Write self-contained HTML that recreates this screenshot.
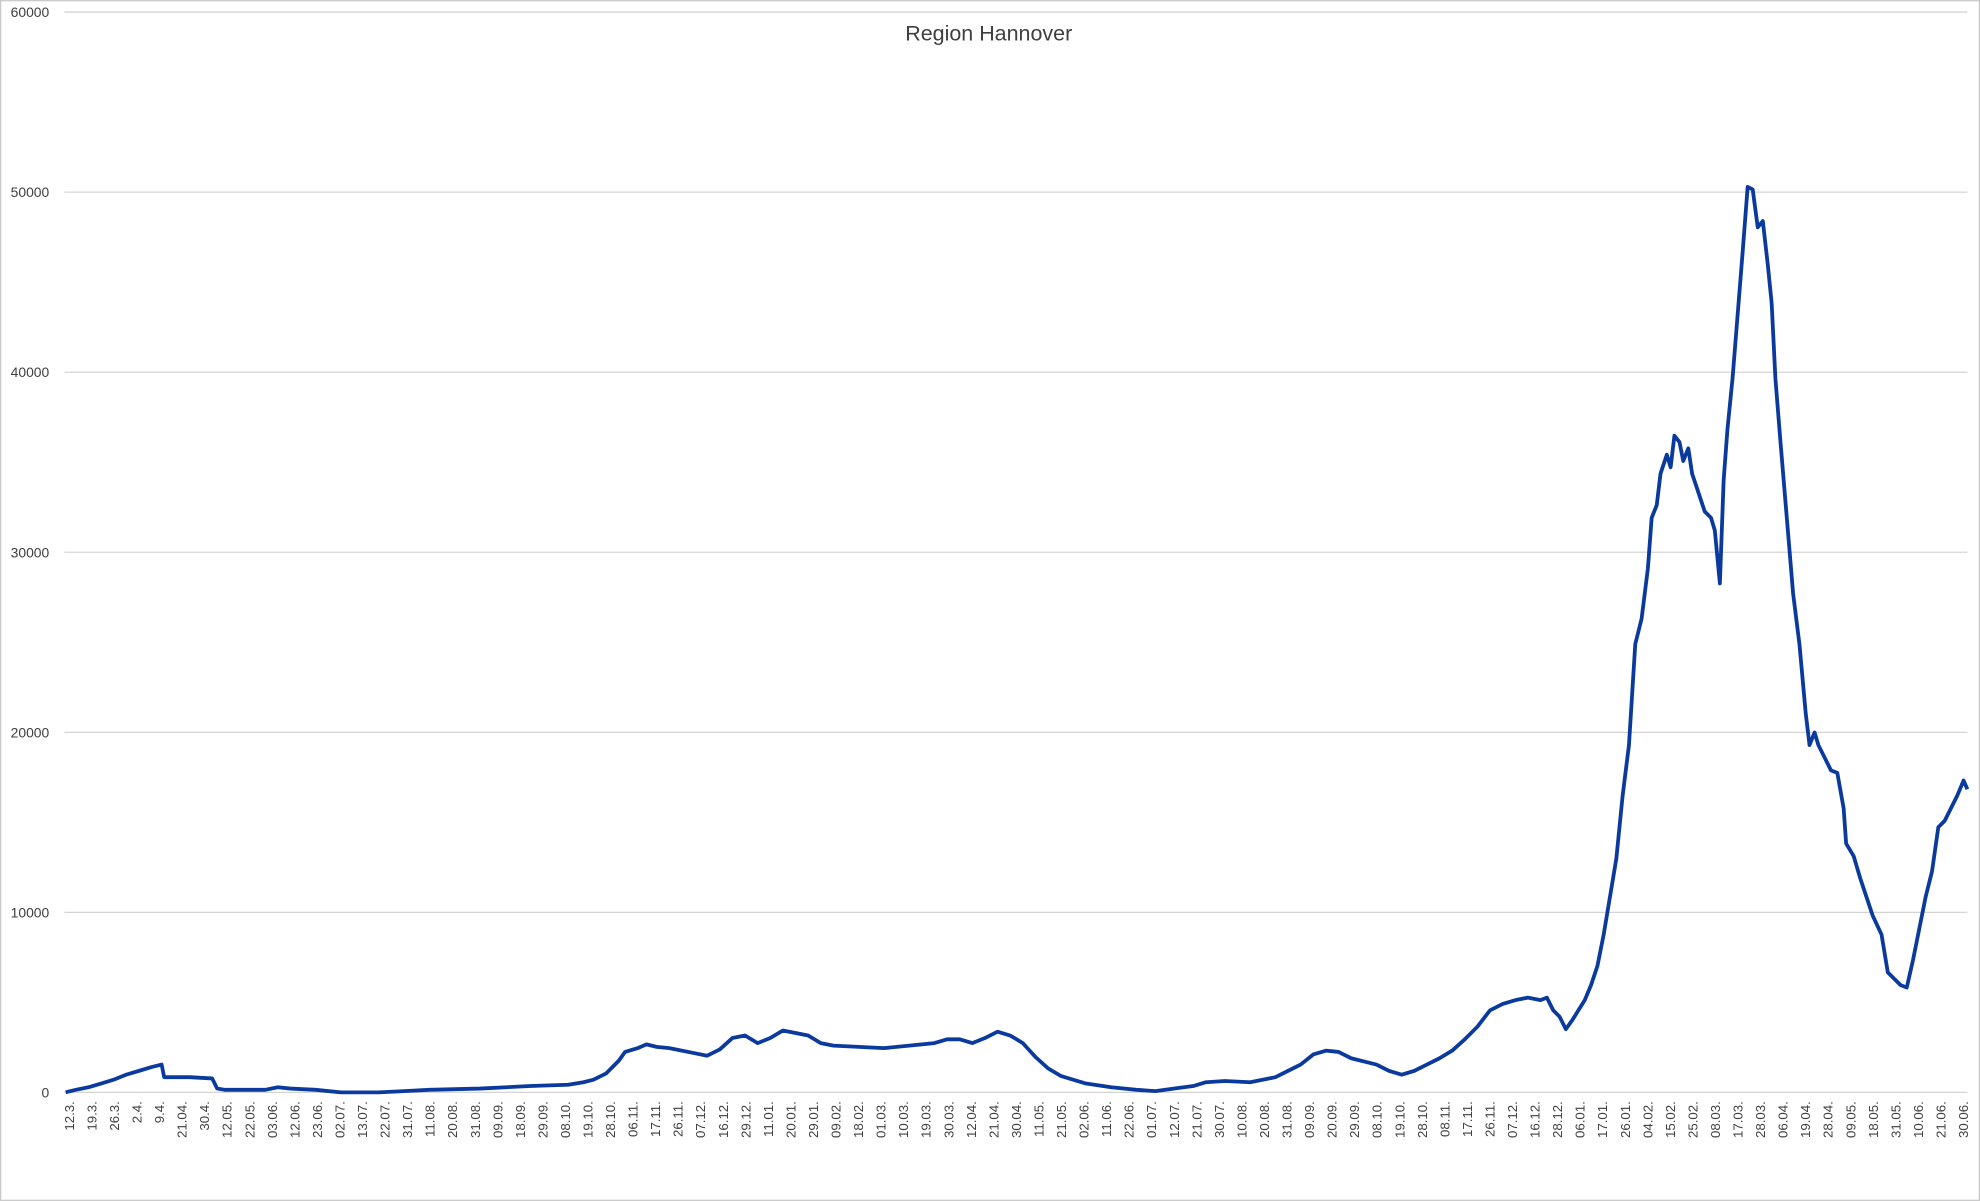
<!DOCTYPE html>
<html><head><meta charset="utf-8"><style>
html,body{margin:0;padding:0;background:#fff;}
svg{display:block;}
</style></head><body>
<svg width="1980" height="1201" viewBox="0 0 1568 951" xmlns="http://www.w3.org/2000/svg" font-family="Liberation Sans, sans-serif">
<rect x="0.5" y="0.5" width="1567" height="950" fill="#fff" stroke="#c8c8c8" stroke-width="1"/>
<g stroke="#d4d4d4" stroke-width="1">
<line x1="51" x2="1558" y1="9.5" y2="9.5"/>
<line x1="51" x2="1558" y1="152.1" y2="152.1"/>
<line x1="51" x2="1558" y1="294.7" y2="294.7"/>
<line x1="51" x2="1558" y1="437.3" y2="437.3"/>
<line x1="51" x2="1558" y1="579.9" y2="579.9"/>
<line x1="51" x2="1558" y1="722.5" y2="722.5"/>
<line x1="51" x2="1558" y1="865" y2="865"/>
</g>
<g font-size="11" fill="#404040" text-anchor="end">
<text x="39" y="13.5">60000</text>
<text x="39" y="156">50000</text>
<text x="39" y="298.7">40000</text>
<text x="39" y="441.3">30000</text>
<text x="39" y="583.9">20000</text>
<text x="39" y="726.5">10000</text>
<text x="39" y="869">0</text>
</g>
<text x="783" y="32" font-size="17" fill="#404040" text-anchor="middle">Region Hannover</text>
<g id="xl" font-size="10.5" fill="#404040" text-anchor="end"></g>
<polyline fill="none" stroke="#0b3a9e" stroke-width="3" stroke-linejoin="round" points="
52,865 60,863 70,861 80,858 90,855 100,851 110,848 120,845 128,843 130,853 150,853 168,854 172,862 178,863 210,863 220,861 230,862 250,863 270,865 300,865 320,864 340,863 380,862 420,860 450,859 462,857 470,855 480,850 490,840 495,833 505,830 512,827 520,829 530,830 550,834 560,836 570,831 580,822 590,820 600,826 610,822 620,816 630,818 640,820 650,826 660,828 680,829 700,830 720,828 740,826 750,823 760,823 770,826 780,822 790,817 800,820 810,826 820,837 830,846 840,852 860,858 880,861 900,863 915,864 930,862 945,860 955,857 970,856 990,857 1010,853 1020,848 1030,843 1040,835 1050,832 1060,833 1070,838 1090,843 1100,848 1110,851 1120,848 1130,843 1140,838 1150,832 1160,823 1170,813 1180,800 1190,795 1200,792 1210,790 1220,792 1225,790 1230,800 1235,805 1240,815 1245,808 1250,800 1255,792 1260,780 1265,765 1270,740 1275,710 1280,680 1285,630 1290,590 1295,510 1300,490 1305,450 1308,410 1312,400 1315,375 1320,360 1323,370 1326,345 1330,350 1333,365 1337,355 1340,375 1345,390 1350,405 1355,410 1358,420 1362,462 1365,380 1368,340 1372,300 1376,250 1380,200 1384,148 1388,150 1392,180 1396,175 1400,210 1403,240 1406,300 1410,350 1415,410 1420,470 1425,510 1430,565 1433,590 1437,580 1440,590 1445,600 1450,610 1455,612 1460,640 1462,668 1468,678 1473,695 1478,710 1483,725 1490,740 1495,770 1500,775 1505,780 1510,782 1515,760 1520,735 1525,710 1530,690 1535,655 1540,650 1545,640 1550,630 1555,618 1558,625"/>
</svg>
<script>
var L="12.3. 19.3. 26.3. 2.4. 9.4. 21.04. 30.4. 12.05. 22.05. 03.06. 12.06. 23.06. 02.07. 13.07. 22.07. 31.07. 11.08. 20.08. 31.08. 09.09. 18.09. 29.09. 08.10. 19.10. 28.10. 06.11. 17.11. 26.11. 07.12. 16.12. 29.12. 11.01. 20.01. 29.01. 09.02. 18.02. 01.03. 10.03. 19.03. 30.03. 12.04. 21.04. 30.04. 11.05. 21.05. 02.06. 11.06. 22.06. 01.07. 12.07. 21.07. 30.07. 10.08. 20.08. 31.08. 09.09. 20.09. 29.09. 08.10. 19.10. 28.10. 08.11. 17.11. 26.11. 07.12. 16.12. 28.12. 06.01. 17.01. 26.01. 04.02. 15.02. 25.02. 08.03. 17.03. 28.03. 06.04. 19.04. 28.04. 09.05. 18.05. 31.05. 10.06. 21.06. 30.06.".split(" ");
var g=document.getElementById("xl"),n=L.length,x0=55,x1=1555;
for(var i=0;i<n;i++){var x=x0+(x1-x0)*i/(n-1)+3.5;var t=document.createElementNS("http://www.w3.org/2000/svg","text");
t.setAttribute("transform","translate("+x.toFixed(2)+",872) rotate(-90)");t.textContent=L[i];g.appendChild(t);}
</script>
</body></html>
